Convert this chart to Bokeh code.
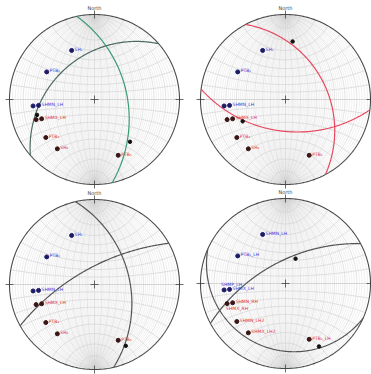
import numpy as np
from bokeh.plotting import figure
from bokeh.models import Range1d
from bokeh.core.properties import value
from bokeh.embed import file_html
from bokeh.resources import INLINE

# ---------------- data ----------------
point_trend = [335, 300, 264, 264, 251, 250, 232, 217, 157]
point_plunge = [25, 24, 18, 23, 18, 23, 18, 18, 19]
point_group = ["blue", "blue", "blue", "blue", "red", "red", "red", "red", "red"]
labels_std = ["SH₁", "PTB₁", "", "SHMN_LH", "", "SHMX_LH", "PTB₂", "SH₂", "PTB₃"]
labels_p4 = ["SHMN_LH", "PTB₁_LH", "SHMP_LH", "SHMX_LH", "SHMX_RH", "SHMN_RH", "SHMN_LH2", "SHMX_LH2", "PTB₃_LH"]

plane_dipdir = [[78, 319], [62, 187], [77, 331], [332, 204]]
plane_dip = [[48, 37], [38, 49], [45, 68], [61, 14]]
plane_color = [["#3a9a72", "#4e6a62"], ["#e8475f", "#e8475f"], ["#555555", "#555555"], ["#555555", "#555555"]]

line_trend = [[255, 140], [7, 243], [153], [22, 152]]
line_plunge = [[20, 24], [21, 31], [12], [55, 10]]

# ---------------- layout ----------------
W, H = 371, 374
centers = [(94, 99), (285, 99), (94, 284), (285, 283)]
R = 85
FONT = value("DejaVu Sans")


def proj(trend, plunge):
    t = np.radians(np.asarray(trend, float))
    p = np.radians(np.asarray(plunge, float))
    r = np.tan(np.pi / 4 - p / 2)
    return r * np.sin(t), r * np.cos(t)


def great_circle(dd, dip, n=241):
    th = np.linspace(0, np.pi, n)
    st = np.radians(dd - 90)
    ddr = np.radians(dd)
    dr = np.radians(dip)
    sE, sN = np.sin(st), np.cos(st)
    dE, dN, dD = np.cos(dr) * np.sin(ddr), np.cos(dr) * np.cos(ddr), np.sin(dr)
    vE = np.cos(th) * sE + np.sin(th) * dE
    vN = np.cos(th) * sN + np.sin(th) * dN
    vD = np.sin(th) * dD
    return vE / (1 + vD), vN / (1 + vD)


def small_circle(alpha, n=121):
    ph = np.linspace(0, np.pi, n)
    a = np.radians(alpha)
    vE = np.sin(a) * np.cos(ph)
    vN = np.cos(a) * np.ones_like(ph)
    vD = np.sin(a) * np.sin(ph)
    return vE / (1 + vD), vN / (1 + vD)


p = figure(width=W, height=H, output_backend="svg", toolbar_location=None,
           x_range=Range1d(0, W), y_range=Range1d(H, 0),
           min_border=0, x_axis_type=None, y_axis_type=None)
p.grid.visible = False
p.outline_line_color = None
p.background_fill_color = "white"
p.border_fill_color = "white"


def to_page(c, x, y):
    cx, cy = c
    return cx + R * np.asarray(x), cy - R * np.asarray(y)


for k, c in enumerate(centers):
    cx, cy = c
    minor_x, minor_y, major_x, major_y = [], [], [], []
    for dip in range(2, 90, 2):
        for dd in (90, 270):
            gx, gy = great_circle(dd, dip)
            X, Y = to_page(c, gx, gy)
            if dip % 10 == 0:
                major_x.append(X); major_y.append(Y)
            else:
                minor_x.append(X); minor_y.append(Y)
    for a in range(10, 180, 10):
        sx, sy = small_circle(a)
        X, Y = to_page(c, sx, sy)
        major_x.append(X); major_y.append(Y)
    p.multi_line(minor_x, minor_y, line_color="#dcdcdc", line_width=0.45)
    p.multi_line(major_x, major_y, line_color="#cdcdcd", line_width=0.6)
    p.multi_line([[cx - R, cx + R], [cx, cx]], [[cy, cy], [cy - R, cy + R]],
                 line_color="#cdcdcd", line_width=0.6)

    ang = np.linspace(0, 2 * np.pi, 361)
    p.line(cx + R * np.cos(ang), cy + R * np.sin(ang), line_color="#4a4a4a", line_width=1.1)

    t = 4
    p.multi_line([[cx, cx], [cx, cx], [cx - R - t, cx - R + t], [cx + R - t, cx + R + t],
                  [cx - R, cx - R], [cx + R, cx + R],
                  [cx - t, cx + t], [cx, cx]],
                 [[cy - R - t, cy - R + t], [cy + R - t, cy + R + t], [cy, cy], [cy, cy],
                  [cy - 2, cy + 2], [cy - 2, cy + 2],
                  [cy, cy], [cy - t, cy + t]],
                 line_color="#444444", line_width=0.8)
    p.text(x=[cx], y=[cy - R - 7], text=["North"], text_font=FONT, text_font_size="5px",
           text_align="center", text_baseline="middle", text_color="#444444")

    for dd, dip, col in zip(plane_dipdir[k], plane_dip[k], plane_color[k]):
        gx, gy = great_circle(dd, dip)
        X, Y = to_page(c, gx, gy)
        p.line(X, Y, line_color=col, line_width=1.2)

    lx, ly = proj(line_trend[k], line_plunge[k])
    X, Y = to_page(c, lx, ly)
    p.scatter(X, Y, size=3.5, fill_color="#111111", line_color="#111111")

    px, py = proj(point_trend, point_plunge)
    X, Y = to_page(c, px, py)
    for i in range(len(point_trend)):
        dot = "#1c1c66" if point_group[i] == "blue" else "#3b1515"
        tcol = "#3a3ad8" if point_group[i] == "blue" else "#e0303a"
        p.scatter([X[i]], [Y[i]], size=4, fill_color=dot, line_color=dot)
        lab = labels_p4[i] if k == 3 else labels_std[i]
        if not lab:
            continue
        dx, dy = 3, -1
        if k == 3 and i == 2:
            dx, dy = -3, -5
        if k == 3 and i == 4:
            dx, dy = -1, 5
        p.text(x=[X[i] + dx], y=[Y[i] + dy], text=[lab], text_font=FONT, text_font_size="4.5px",
               text_align="left", text_baseline="middle", text_color=tcol)

open("out.html", "w").write(file_html(p, INLINE))
